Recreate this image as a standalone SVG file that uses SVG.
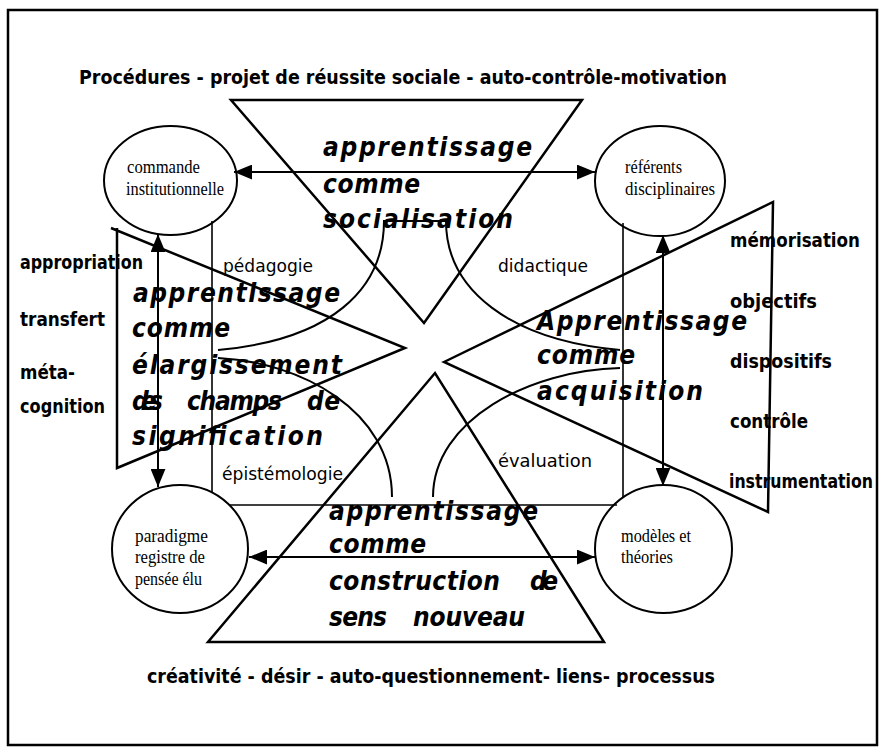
<svg xmlns="http://www.w3.org/2000/svg" width="883" height="753" viewBox="0 0 883 753">
<style>
.frame{fill:none;stroke:#000;stroke-width:2.5}
.tri{fill:none;stroke:#000;stroke-width:2.5;stroke-linejoin:miter}
.thin{fill:none;stroke:#000;stroke-width:1.6}
.arr{fill:none;stroke:#000;stroke-width:2}
.curve{fill:none;stroke:#000;stroke-width:2}
.node ellipse{fill:#fff;fill-opacity:0;stroke:#000;stroke-width:2}
.ser{font-family:"Liberation Serif","Times New Roman",serif;font-size:18px;fill:#000}
.big{font-family:"DejaVu Sans Condensed","DejaVu Sans",sans-serif;font-stretch:condensed;font-weight:bold;font-style:oblique;font-size:26px;fill:#000}
.lab{font-family:"DejaVu Sans Condensed","DejaVu Sans",sans-serif;font-stretch:condensed;font-weight:bold;font-size:19px;fill:#000}
.sm{font-family:"DejaVu Sans Condensed","DejaVu Sans",sans-serif;font-stretch:condensed;font-size:17px;fill:#000}
.ttl{font-family:"DejaVu Sans Condensed","DejaVu Sans",sans-serif;font-stretch:condensed;font-weight:bold;font-size:20px;fill:#000}
</style>
<defs>
<marker id="ah" markerUnits="userSpaceOnUse" markerWidth="18" markerHeight="15" viewBox="0 0 17 14" refX="17" refY="7" orient="auto-start-reverse">
<path d="M0,0 L17,7 L0,14 z" fill="#000"/>
</marker>
</defs>
<rect class="frame" x="8" y="10" width="869" height="735"/>

<g id="shapes">
<polygon class="tri" points="231,100 582,100 424,323"/>
<path class="tri" d="M111,228 L405,348 L117,468 L117,228"/>
<polygon class="tri" points="444,362 773,202 768,512"/>
<polygon class="tri" points="208,642 604,642 435,373"/>
</g>

<g id="connectors">
<line class="thin" x1="212" y1="221" x2="212" y2="493"/>
<line class="thin" x1="623" y1="223" x2="623" y2="497"/>
<line class="thin" x1="230" y1="505" x2="617" y2="505"/>
<line class="arr" x1="234" y1="172" x2="595" y2="172" marker-start="url(#ah)" marker-end="url(#ah)"/>
<line class="arr" x1="249" y1="557" x2="595" y2="557" marker-start="url(#ah)" marker-end="url(#ah)"/>
<line class="arr" x1="158" y1="234" x2="158" y2="487" marker-start="url(#ah)" marker-end="url(#ah)"/>
<line class="arr" x1="663" y1="235" x2="663" y2="486" marker-start="url(#ah)" marker-end="url(#ah)"/>
<path class="curve" d="M218,350 C330,340 384,290 384,221 L446,221 C446,290 510,340 620,350"/>
<path class="curve" d="M218,358 C300,362 392,410 392,497"/>
<path class="curve" d="M620,368 C530,370 433,420 433,497"/>
</g>

<g id="n1" class="node">
<ellipse cx="170.5" cy="180.5" rx="66.5" ry="54.5"/>
<text class="ser" x="127" y="173" textLength="73" lengthAdjust="spacingAndGlyphs">commande</text>
<text class="ser" x="126" y="195" textLength="98" lengthAdjust="spacingAndGlyphs">institutionnelle</text>
</g>
<g id="n2" class="node">
<ellipse cx="660" cy="181" rx="65" ry="55"/>
<text class="ser" x="625" y="173" textLength="57" lengthAdjust="spacingAndGlyphs">référents</text>
<text class="ser" x="625" y="195" textLength="90" lengthAdjust="spacingAndGlyphs">disciplinaires</text>
</g>
<g id="n3" class="node">
<ellipse cx="180" cy="549" rx="68" ry="64"/>
<text class="ser" x="135" y="542" textLength="73" lengthAdjust="spacingAndGlyphs">paradigme</text>
<text class="ser" x="135" y="563" textLength="70" lengthAdjust="spacingAndGlyphs">registre de</text>
<text class="ser" x="135" y="585" textLength="67" lengthAdjust="spacingAndGlyphs">pensée élu</text>
</g>
<g id="n4" class="node">
<ellipse cx="663.5" cy="549" rx="68.5" ry="64"/>
<text class="ser" x="621" y="542" textLength="70" lengthAdjust="spacingAndGlyphs">modèles et</text>
<text class="ser" x="621" y="563" textLength="52" lengthAdjust="spacingAndGlyphs">théories</text>
</g>

<g id="t-top">
<text class="big" x="323" y="156" textLength="209" lengthAdjust="spacing">apprentissage</text>
<text class="big" x="323" y="193" textLength="97" lengthAdjust="spacing">comme</text>
<text class="big" x="323" y="228" textLength="190" lengthAdjust="spacing">socialisation</text>
</g>
<g id="t-left">
<text class="big" x="133" y="302" textLength="207" lengthAdjust="spacing">apprentissage</text>
<text class="big" x="132" y="337" textLength="98" lengthAdjust="spacing">comme</text>
<text class="big" x="132" y="374" textLength="210" lengthAdjust="spacing">élargissement</text>
<text class="big" x="132" y="410" textLength="31" lengthAdjust="spacing">des</text>
<text class="big" x="187" y="410" textLength="95" lengthAdjust="spacing">champs</text>
<text class="big" x="307" y="410" textLength="33" lengthAdjust="spacing">de</text>
<text class="big" x="132" y="445" textLength="191" lengthAdjust="spacing">signification</text>
</g>
<g id="t-right">
<text class="big" x="537" y="330" textLength="210" lengthAdjust="spacing">Apprentissage</text>
<text class="big" x="537" y="364" textLength="98" lengthAdjust="spacing">comme</text>
<text class="big" x="537" y="400" textLength="166" lengthAdjust="spacing">acquisition</text>
</g>
<g id="t-bottom">
<text class="big" x="329" y="520" textLength="209" lengthAdjust="spacing">apprentissage</text>
<text class="big" x="329" y="553" textLength="97" lengthAdjust="spacing">comme</text>
<text class="big" x="329" y="590" textLength="171" lengthAdjust="spacing">construction</text>
<text class="big" x="530" y="590" textLength="28" lengthAdjust="spacing">de</text>
<text class="big" x="329" y="626" textLength="58" lengthAdjust="spacing">sens</text>
<text class="big" x="413" y="626" textLength="112" lengthAdjust="spacing">nouveau</text>
</g>

<g id="labels">
<text class="ttl" x="79" y="84" textLength="648" lengthAdjust="spacingAndGlyphs">Procédures - projet de réussite sociale - auto-contrôle-motivation</text>
<text class="ttl" x="147" y="683" textLength="568" lengthAdjust="spacingAndGlyphs">créativité - désir - auto-questionnement- liens- processus</text>
<text class="lab" x="20" y="269" textLength="123" lengthAdjust="spacingAndGlyphs">appropriation</text>
<text class="lab" x="20" y="326" textLength="85" lengthAdjust="spacingAndGlyphs">transfert</text>
<text class="lab" x="20" y="379" textLength="55" lengthAdjust="spacingAndGlyphs">méta-</text>
<text class="lab" x="20" y="413" textLength="85" lengthAdjust="spacingAndGlyphs">cognition</text>
<text class="lab" x="730" y="247" textLength="130" lengthAdjust="spacingAndGlyphs">mémorisation</text>
<text class="lab" x="730" y="308" textLength="87" lengthAdjust="spacingAndGlyphs">objectifs</text>
<text class="lab" x="730" y="368" textLength="102" lengthAdjust="spacingAndGlyphs">dispositifs</text>
<text class="lab" x="730" y="428" textLength="78" lengthAdjust="spacingAndGlyphs">contrôle</text>
<text class="lab" x="729" y="488" textLength="144" lengthAdjust="spacingAndGlyphs">instrumentation</text>
<text class="sm" x="223" y="272" textLength="90" lengthAdjust="spacingAndGlyphs">pédagogie</text>
<text class="sm" x="498" y="272" textLength="90" lengthAdjust="spacingAndGlyphs">didactique</text>
<text class="sm" x="222" y="480" textLength="121" lengthAdjust="spacingAndGlyphs">épistémologie</text>
<text class="sm" x="498" y="467" textLength="94" lengthAdjust="spacingAndGlyphs">évaluation</text>
</g>
</svg>
